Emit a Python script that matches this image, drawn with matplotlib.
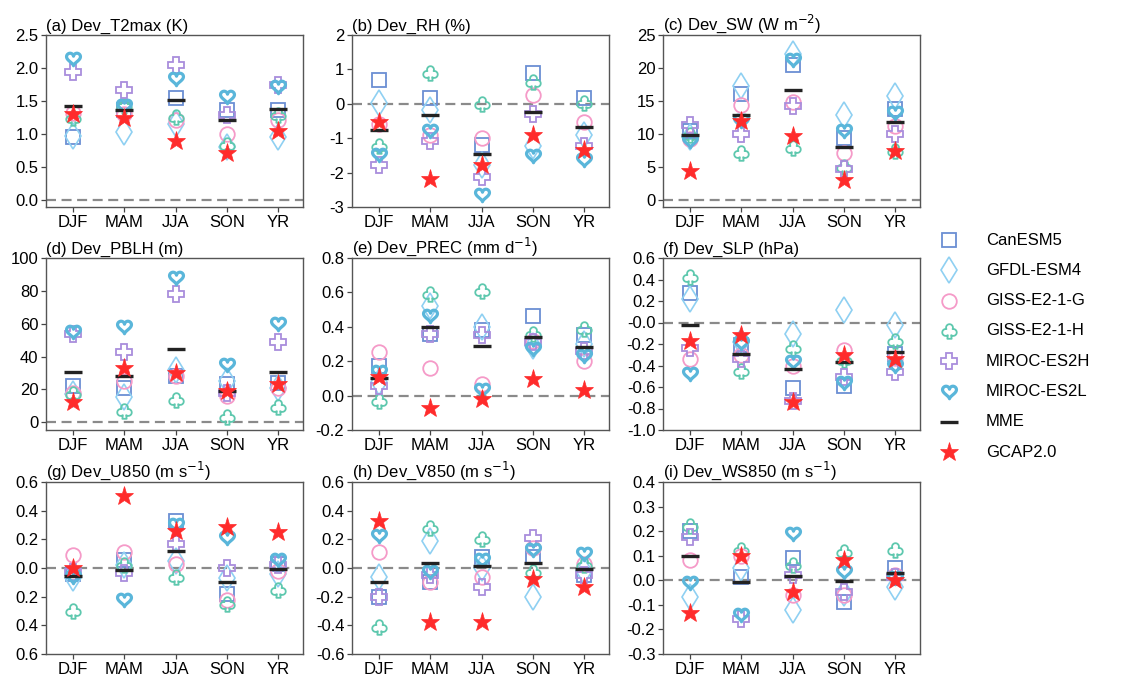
import numpy as np
import matplotlib
matplotlib.use('Agg')
import matplotlib.pyplot as plt
from matplotlib.path import Path
from matplotlib.lines import Line2D

plt.rcParams['font.family'] = ['Liberation Sans', 'DejaVu Sans']
plt.rcParams['axes.unicode_minus'] = False

# ---------------- data ----------------
seasons = ['DJF', 'MAM', 'JJA', 'SON', 'YR']
models = ['CanESM5', 'GFDL-ESM4', 'GISS-E2-1-G', 'GISS-E2-1-H',
          'MIROC-ES2H', 'MIROC-ES2L', 'MME', 'GCAP2.0']

# rows follow `models` order, columns follow `seasons`
T2MAX = [[0.96, 1.36, 1.55, 1.36, 1.37],
         [0.98, 1.04, 1.16, 0.81, 0.96],
         [1.32, 1.31, 1.21, 1.01, 1.22],
         [1.25, 1.42, 1.26, 0.83, 1.29],
         [1.94, 1.67, 2.05, 1.29, 1.74],
         [2.13, 1.42, 1.83, 1.57, 1.71],
         [1.43, 1.36, 1.52, 1.21, 1.38],
         [1.31, 1.24, 0.90, 0.72, 1.05]]
RH = [[0.68, 0.18, -1.21, 0.89, 0.18],
      [0.03, -0.17, -1.79, -1.24, -0.90],
      [-0.58, -0.90, -0.98, 0.25, -0.54],
      [-1.24, 0.89, -0.02, 0.62, 0.03],
      [-1.78, -1.09, -2.12, -0.31, -1.24],
      [-1.48, -0.78, -2.64, -1.53, -1.63],
      [-0.75, -0.33, -1.46, -0.23, -0.68],
      [-0.54, -2.19, -1.78, -0.90, -1.34]]
SW = [[10.4, 16.1, 20.5, 9.4, 13.8],
      [9.5, 17.3, 22.1, 12.9, 15.7],
      [9.2, 14.4, 14.9, 7.1, 11.2],
      [9.8, 7.1, 7.9, 5.0, 7.4],
      [11.3, 10.0, 14.3, 4.7, 10.0],
      [8.9, 11.9, 21.2, 10.4, 13.2],
      [9.9, 12.8, 16.6, 7.96, 11.8],
      [4.3, 11.9, 9.7, 3.0, 7.35]]
PBLH = [[22.0, 21.0, 28.0, 23.0, 24.0],
        [17.5, 15.2, 32.0, 25.0, 20.7],
        [18.0, 25.0, 28.0, 16.0, 21.0],
        [17.5, 6.6, 13.8, 3.5, 9.2],
        [53.8, 42.9, 77.8, 18.0, 48.7],
        [54.8, 57.9, 88.1, 34.9, 60.0],
        [30.6, 28.1, 44.6, 19.3, 30.6],
        [12.3, 33.3, 30.2, 18.9, 23.6]]
PREC = [[0.17, 0.36, 0.38, 0.46, 0.35],
        [0.08, 0.52, 0.40, 0.29, 0.30],
        [0.255, 0.16, 0.065, 0.32, 0.20],
        [-0.03, 0.59, 0.61, 0.36, 0.39],
        [0.055, 0.36, 0.35, 0.31, 0.26],
        [0.14, 0.46, 0.035, 0.27, 0.23],
        [0.10, 0.40, 0.29, 0.34, 0.28],
        [0.108, -0.07, -0.018, 0.094, 0.031]]
SLP = [[0.27, -0.21, -0.61, -0.59, -0.29],
       [0.22, -0.18, -0.11, 0.12, -0.02],
       [-0.34, -0.30, -0.40, -0.26, -0.33],
       [0.42, -0.45, -0.24, -0.35, -0.17],
       [-0.24, -0.34, -0.73, -0.51, -0.46],
       [-0.48, -0.19, -0.37, -0.56, -0.40],
       [-0.02, -0.29, -0.43, -0.37, -0.27],
       [-0.17, -0.12, -0.74, -0.30, -0.34]]
U850 = [[-0.04, 0.056, 0.33, -0.18, 0.03],
        [-0.07, 0.02, 0.05, -0.07, -0.04],
        [0.09, 0.115, 0.026, -0.225, -0.02],
        [-0.30, 0.02, -0.06, -0.25, -0.155],
        [-0.03, -0.033, 0.17, 0.0, 0.02],
        [-0.06, -0.225, 0.30, 0.21, 0.056],
        [-0.056, -0.014, 0.12, -0.096, -0.01],
        [0.0, 0.50, 0.255, 0.285, 0.25]]
V850 = [[-0.20, -0.10, 0.08, 0.08, -0.05],
        [-0.06, 0.19, 0.0, -0.20, -0.02],
        [0.11, -0.10, -0.063, 0.143, 0.026],
        [-0.41, 0.28, 0.20, -0.03, 0.02],
        [-0.20, -0.05, -0.134, 0.21, -0.05],
        [0.22, -0.03, 0.054, 0.124, 0.10],
        [-0.10, 0.035, 0.012, 0.037, -0.005],
        [0.33, -0.38, -0.38, -0.075, -0.134]]
WS850 = [[0.20, 0.015, 0.09, -0.088, 0.049],
         [-0.067, 0.05, -0.12, -0.05, -0.027],
         [0.083, 0.10, -0.06, -0.058, 0.021],
         [0.22, 0.124, 0.062, 0.117, 0.124],
         [0.178, -0.156, 0.02, -0.047, 0.014],
         [-0.013, -0.143, 0.188, 0.032, 0.01],
         [0.097, -0.006, 0.018, -0.002, 0.028],
         [-0.133, 0.10, -0.047, 0.083, 0.0]]

titles = ['(a) Dev_T2max (K)', '(b) Dev_RH (%)', '(c) Dev_SW (W m$^{-2}$)',
          '(d) Dev_PBLH (m)', '(e) Dev_PREC (mm d$^{-1}$)', '(f) Dev_SLP (hPa)',
          '(g) Dev_U850 (m s$^{-1}$)', '(h) Dev_V850 (m s$^{-1}$)',
          '(i) Dev_WS850 (m s$^{-1}$)']
ylims = [(-0.1, 2.5), (-3, 2), (-1.1, 25), (-4.7, 100), (-0.2, 0.8),
         (-1.0, 0.6), (-0.6, 0.6), (-0.6, 0.6), (-0.3, 0.4)]
yticks = [[0, 0.5, 1.0, 1.5, 2.0, 2.5], [-3, -2, -1, 0, 1, 2],
          [0, 5, 10, 15, 20, 25], [0, 20, 40, 60, 80, 100],
          [-0.2, 0, 0.2, 0.4, 0.6, 0.8],
          [-1.0, -0.8, -0.6, -0.4, -0.2, 0, 0.2, 0.4, 0.6],
          [-0.6, -0.4, -0.2, 0, 0.2, 0.4, 0.6],
          [-0.6, -0.4, -0.2, 0, 0.2, 0.4, 0.6],
          [-0.3, -0.2, -0.1, 0, 0.1, 0.2, 0.3, 0.4]]
yticklabels = [['0.0', '0.5', '1.0', '1.5', '2.0', '2.5'],
               ['-3', '-2', '-1', '0', '1', '2'],
               ['0', '5', '10', '15', '20', '25'],
               ['0', '20', '40', '60', '80', '100'],
               ['-0.2', '0.0', '0.2', '0.4', '0.6', '0.8'],
               ['-1.0', '-0.8', '-0.6', '-0.4', '-0.2', '-0.0', '0.2', '0.4', '0.6'],
               ['0.6', '0.4', '0.2', '0.0', '0.2', '0.4', '0.6'],
               ['-0.6', '-0.4', '-0.2', '0.0', '0.2', '0.4', '0.6'],
               ['-0.3', '-0.2', '-0.1', '0.0', '0.1', '0.2', '0.3', '0.4']]
panels = [T2MAX, RH, SW, PBLH, PREC, SLP, U850, V850, WS850]


# ---------------- custom markers ----------------
def heart_path():
    t = np.linspace(0, 2 * np.pi, 120)
    x = 16 * np.sin(t) ** 3
    y = 13 * np.cos(t) - 5 * np.cos(2 * t) - 2 * np.cos(3 * t) - np.cos(4 * t)
    x = x - (x.max() + x.min()) / 2
    y = y - (y.max() + y.min()) / 2
    v = np.column_stack([x, y])
    return Path(v, closed=True)


def club_path():
    circles = [((0.0, 0.30), 0.27), ((-0.30, -0.08), 0.27), ((0.30, -0.08), 0.27)]
    stem = Path([(-0.07, 0.15), (0.07, 0.15), (0.17, -0.58), (-0.17, -0.58), (-0.07, 0.15)])
    pts = []
    for i, (c, r) in enumerate(circles):
        for a in np.linspace(0, 2 * np.pi, 240, endpoint=False):
            p = (c[0] + r * np.cos(a), c[1] + r * np.sin(a))
            inside = any(np.hypot(p[0] - c2[0], p[1] - c2[1]) < r2 - 1e-6
                         for j, (c2, r2) in enumerate(circles) if j != i)
            if not inside and not stem.contains_point(p, radius=-1e-6):
                pts.append(p)
    sv = [(-0.07, 0.15), (0.07, 0.15), (0.17, -0.58), (-0.17, -0.58), (-0.07, 0.15)]
    for k in range(4):
        for s in np.linspace(0, 1, 60, endpoint=False):
            p = (sv[k][0] + s * (sv[k + 1][0] - sv[k][0]),
                 sv[k][1] + s * (sv[k + 1][1] - sv[k][1]))
            inside = any(np.hypot(p[0] - c2[0], p[1] - c2[1]) < r2 for (c2, r2) in circles)
            if not inside:
                pts.append(p)
    pts = np.array(pts)
    ang = np.arctan2(pts[:, 1], pts[:, 0])
    pts = pts[np.argsort(ang)]
    pts[:, 1] -= (pts[:, 1].max() + pts[:, 1].min()) / 2
    return Path(np.vstack([pts, pts[:1]]), closed=True)


HEART = heart_path()
CLUB = club_path()

styles = [
    dict(marker='s', ms=10, mew=1.3, color='#6b8fd3', mfc='none'),
    dict(marker='d', ms=13.5, mew=1.2, color='#8fd0f2', mfc='none'),
    dict(marker='o', ms=10.5, mew=1.3, color='#f59ac8', mfc='none'),
    dict(marker=CLUB, ms=10.5, mew=1.3, color='#5ec8ae', mfc='none'),
    dict(marker='P', ms=11, mew=1.3, color='#a98ddc', mfc='none'),
    dict(marker=HEART, ms=10, mew=2.3, color='#5ab6da', mfc='none'),
    dict(marker='_', ms=12.5, mew=2.4, color='#222222'),
    dict(marker='*', ms=14, mew=0.5, color='#ff2b2b', mfc='#ff2b2b'),
]

# ---------------- figure ----------------
W, H = 1121, 675
fig = plt.figure(figsize=(W / 100, H / 100), dpi=100)

lefts = [46, 352, 663]
tops = [35, 258, 482]
aw, ah = 257, 172
x = np.arange(len(seasons))

for k, data in enumerate(panels):
    r, c = divmod(k, 3)
    ax = fig.add_axes([lefts[c] / W, 1 - (tops[r] + ah) / H, aw / W, ah / H])
    ax.axhline(0, color='#8a8a8a', ls=(0, (4.5, 2.5)), lw=1.6, zorder=1)
    for m, st in enumerate(styles):
        ax.plot(x, data[m], ls='none', zorder=3 + m, **st)
    ax.set_xlim(-0.53, 4.49)
    ax.set_ylim(*ylims[k])
    ax.set_xticks(x)
    ax.set_xticklabels(seasons)
    ax.set_yticks(yticks[k])
    ax.set_yticklabels(yticklabels[k])
    ax.tick_params(labelsize=12, length=3.5, width=0.9, color='#444444', pad=2)
    for sp in ax.spines.values():
        sp.set_color('#555555')
        sp.set_linewidth(1.0)
    ax.set_title(titles[k], loc='left', fontsize=12, pad=3)

# legend (drawn as individual key entries at fixed figure positions)
leg_marker_x, leg_text_x = 949, 986
leg_y0, leg_dy = 240, 30.3
for i, (name, st) in enumerate(zip(models, styles)):
    yy = 1 - (leg_y0 + i * leg_dy) / H
    fig.add_artist(Line2D([leg_marker_x / W], [yy], transform=fig.transFigure,
                          ls='none', **st))
    fig.text(leg_text_x / W, yy, name, fontsize=12, va='center', ha='left')

fig.savefig('out.png', dpi=100)
